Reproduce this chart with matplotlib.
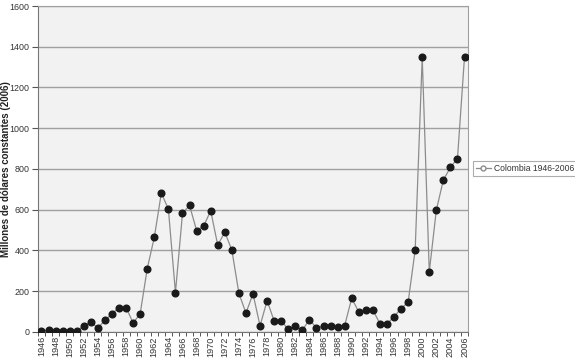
import matplotlib
matplotlib.use("Agg")
import matplotlib.pyplot as plt
import numpy as np
from matplotlib.lines import Line2D

years = list(range(1946, 2007))
values = [5, 10, 3, 3, 3, 3, 30, 48, 20, 57, 89, 120, 120, 44, 90,
          311, 464, 682, 603, 193, 582, 621, 498, 520, 595, 426, 490, 402,
          190, 93, 187, 30, 154, 54, 54, 13, 28, 10, 59, 21, 28, 30, 23, 31,
          166, 98, 110, 108, 41, 39, 75, 115, 146, 402, 1349, 295, 598, 746,
          808, 851, 1351]
series_name = "Colombia 1946-2006"
ylabel = "Millones de dólares constantes (2006)"
yticks = [0, 200, 400, 600, 800, 1000, 1200, 1400, 1600]

plt.rcParams['font.family'] = ['Liberation Sans', 'DejaVu Sans']

fig = plt.figure(figsize=(5.75, 3.64), dpi=100)
ax = fig.add_axes([0.066, 0.088, 0.748, 0.8955])
ax.set_facecolor('#f2f2f2')

x = np.arange(len(years))
ax.plot(x, values, color='#8c8c8c', lw=0.9, zorder=3)
ax.plot(x, values, ls='none', marker='o', ms=4.8, mfc='#1a1a1a', mec='#1a1a1a', zorder=4)

ax.set_xlim(-0.5, len(years) - 0.5)
ax.set_ylim(0, 1600)
ax.set_yticks(yticks)
ax.yaxis.grid(True, color='#a0a0a0', lw=1.0)
ax.set_axisbelow(True)
ax.tick_params(axis='y', labelsize=6.4, length=4, width=0.8, color='#555555', pad=2)
for lab in ax.get_yticklabels():
    lab.set_color('#333333')

ax.set_xticks(x[::2])
ax.set_xticklabels([str(y) for y in years[::2]], rotation=90, fontsize=6.6, color='#333333')
ax.set_xticks(np.arange(-0.5, len(years), 1), minor=True)
ax.tick_params(axis='x', which='major', length=0, pad=3)
ax.tick_params(axis='x', which='minor', length=3, width=0.7, color='#555555')

for s in ['top', 'right']:
    ax.spines[s].set_color('#a0a0a0')
ax.spines['left'].set_color('#777777')
ax.spines['bottom'].set_color('#777777')

ax.set_ylabel(ylabel, fontsize=7, fontweight='bold', color='#222222')
ax.yaxis.set_label_coords(-0.062, 0.5)

h = Line2D([0], [0], color='#8c8c8c', lw=0.9, marker='o', ms=3.5, mfc='white', mec='#8c8c8c')
leg = fig.legend([h], [series_name], loc='center left', bbox_to_anchor=(0.822, 0.538),
                 fontsize=6.2, frameon=True, fancybox=False, handlelength=1.8,
                 borderpad=0.35, handletextpad=0.3, borderaxespad=0)
leg.get_frame().set_edgecolor('#999999')
leg.get_frame().set_linewidth(0.8)
for t in leg.get_texts():
    t.set_color('#333333')

fig.savefig('out.png', dpi=100)
